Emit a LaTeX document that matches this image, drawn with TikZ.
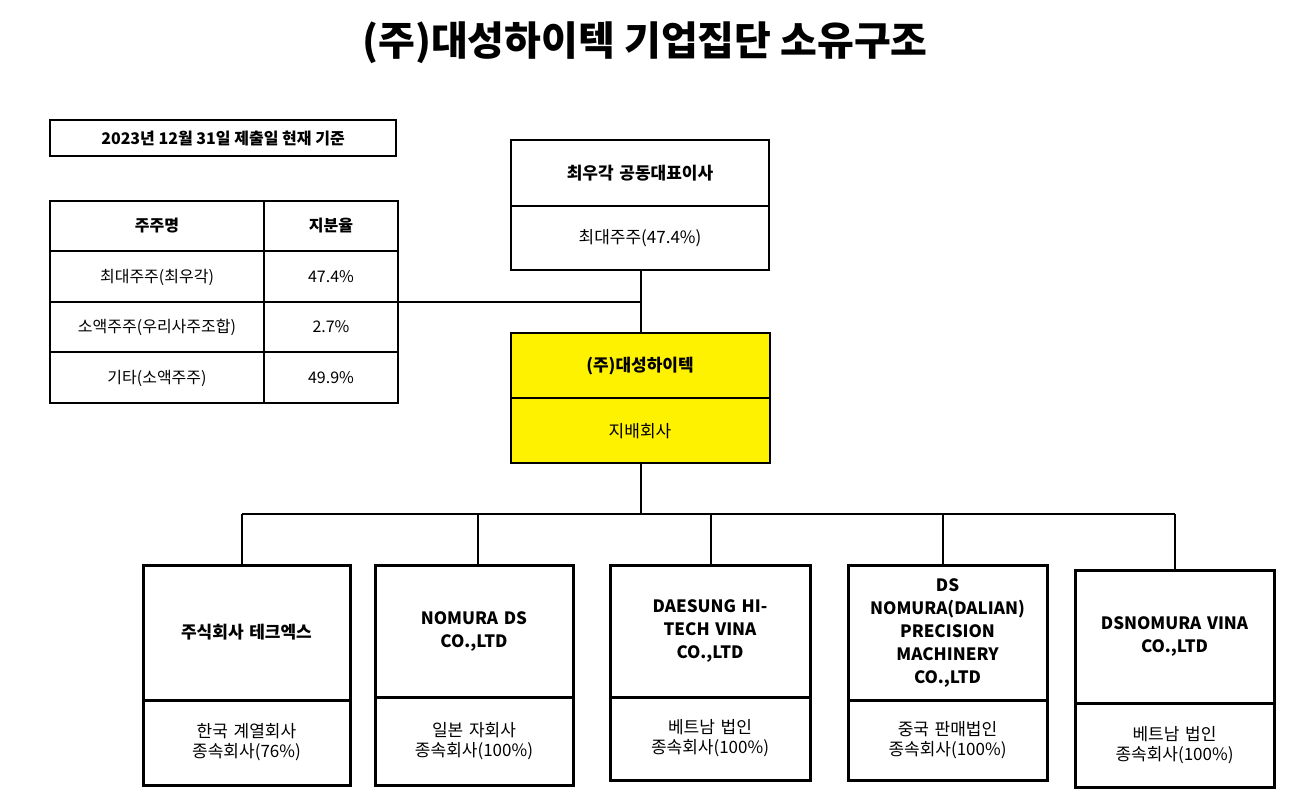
\documentclass[tikz,border=0pt]{standalone}
\usepackage{fontspec}
\setmainfont{Noto Sans CJK KR}
\usetikzlibrary{positioning}
\begin{document}
\begin{tikzpicture}[x=1pt,y=-1pt,
    thin line/.style={draw=black, line width=1.2pt},
    thick box/.style={draw=black, line width=3pt},
    txt/.style={font=\fontsize{17}{20}\selectfont, align=center, text width=190pt},
    btxt/.style={font=\bfseries\fontsize{17}{20}\selectfont, align=center, text width=190pt}]
\useasboundingbox (0,0) rectangle (1293,797);
\node (title) at (645,43) {\bfseries\fontsize{40}{46}\selectfont (주)대성하이텍 기업집단 소유구조};
% base date and share table
\draw[thin line] (50,120) rectangle (396,156);
\node (date) at (223,138) {\bfseries\fontsize{16}{19}\selectfont 2023년 12월 31일 제출일 현재 기준};
\draw[thin line] (50,201) rectangle (398,403);
\foreach \y in {251,302,352} \draw[thin line] (50,\y) -- (398,\y);
\draw[thin line] (264,201) -- (264,403);
\node (h1) at (157,226) {\bfseries\fontsize{16}{19}\selectfont 주주명};
\node (h2) at (331,226) {\bfseries\fontsize{16}{19}\selectfont 지분율};
\foreach \y/\a/\b in {277/최대주주(최우각)/47.4\%, 327/소액주주(우리사주조합)/2.7\%, 378/기타(소액주주)/49.9\%}{
  \node at (157,\y) {\fontsize{16}{19}\selectfont \a};
  \node at (331,\y) {\fontsize{16}{19}\selectfont \b};}
% top holder
\draw[thin line] (511,140) rectangle (769,270);
\draw[thin line] (511,206) -- (769,206);
\node[btxt] (ceo) at (640,173) {최우각 공동대표이사};
\node[txt] (ceos) at (640,238) {최대주주(47.4\%)};
% holding company
\draw[thin line, fill=yellow] (511,333) rectangle (770,463);
\draw[thin line] (511,398) -- (770,398);
\node[btxt] (hold) at (640,366) {(주)대성하이텍};
\node[txt] (holds) at (640,431) {지배회사};
% connectors
\coordinate (j1) at (641,302);
\draw[thin line] (398,302) -- (j1);
\draw[thin line] (641,270) -- (641,333);
\draw[thin line] (641,463) -- (641,514);
\draw[thin line] (242,514) -- (1175,514);
% subsidiaries
\foreach \l/\r/\t/\d/\bt/\x/\name/\desc in {
  143/350/565/700/785/242/{주식회사 테크엑스}/{한국 계열회사\\종속회사(76\%)},
  375/573/565/697/785/478/{NOMURA DS\\CO.,LTD}/{일본 자회사\\종속회사(100\%)},
  610/810/565/697/780/711/{DAESUNG HI-\\TECH VINA\\CO.,LTD}/{베트남 법인\\종속회사(100\%)},
  848/1047/565/700/780/943/{DS\\NOMURA(DALIAN)\\PRECISION\\MACHINERY\\CO.,LTD}/{중국 판매법인\\종속회사(100\%)},
  1075/1274/570/703/787/1175/{DSNOMURA VINA\\CO.,LTD}/{베트남 법인\\종속회사(100\%)}}{
  \draw[thin line] (\x,514) -- (\x,\t);
  \draw[thick box] (\l,\t) rectangle (\r,\bt);
  \draw[thick box] (\l,\d) -- (\r,\d);
  \node[btxt, font=\bfseries\fontsize{17}{23}\selectfont] at ({(\l+\r)/2},{(\t+\d)/2}) {\name};
  \node[txt] at ({(\l+\r)/2},{(\d+\bt)/2}) {\desc};}
\end{tikzpicture}
\end{document}
